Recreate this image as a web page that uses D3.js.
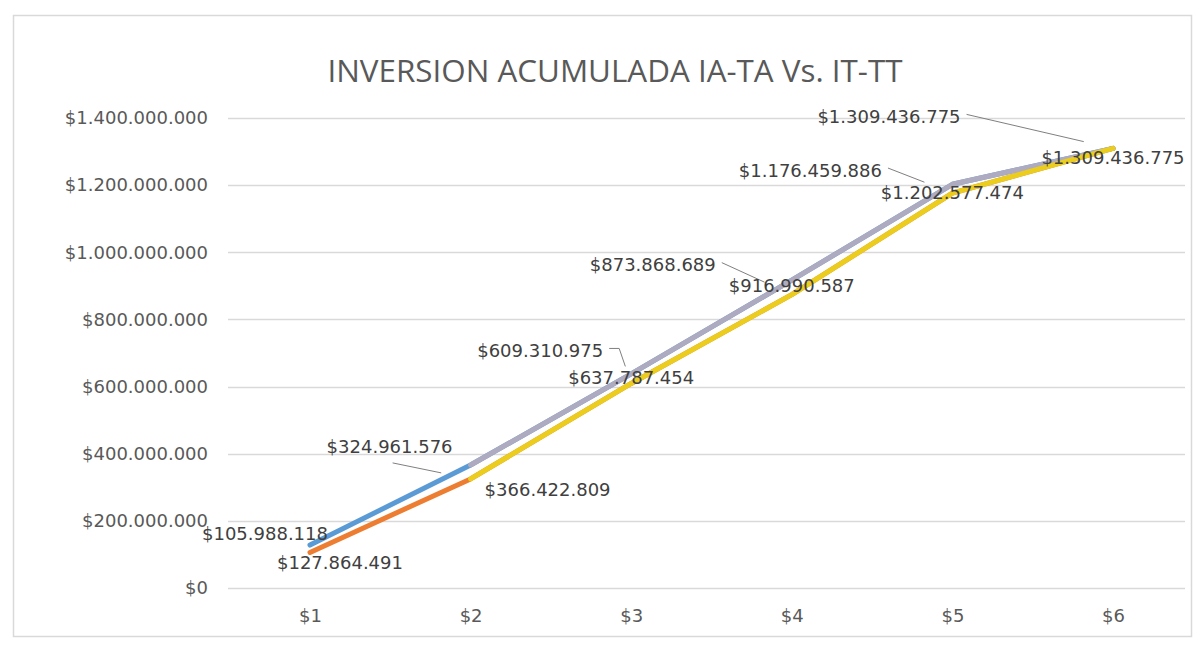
<!DOCTYPE html>
<html>
<head>
<meta charset="utf-8">
<script src="https://cdn.jsdelivr.net/npm/d3@7"></script>
<style>
  html, body { margin: 0; padding: 0; background: #ffffff; }
  svg { display: block; }
</style>
</head>
<body>
<svg id="chart" width="1195" height="648"></svg>
<script>
// ---- Data ----
const categories = ["$1", "$2", "$3", "$4", "$5", "$6"];
const seriesIA = [127864491, 366422809, 637787454, 916990587, 1202577474, 1309436775]; // blue
const seriesTA = [105988118, 324961576, 609310975, 873868689, 1176459886, 1309436775]; // orange
const seriesIT = [null, 366422809, 637787454, 916990587, 1202577474, 1309436775];      // gray
const seriesTT = [null, 324961576, 609310975, 873868689, 1176459886, 1309436775];      // yellow
const yTicks = [0, 200000000, 400000000, 600000000, 800000000, 1000000000, 1200000000, 1400000000];
const titleText = "INVERSION ACUMULADA IA-TA Vs. IT-TT";

// ---- Layout / style ----
const svg = d3.select("#chart");
const x = d3.scalePoint().domain(categories).range([310, 1113]);
const y = d3.scaleLinear().domain([0, 1400000000]).range([588, 118]);
const gridX0 = 228, gridX1 = 1185;
const fmt = v => "$" + d3.format(",")(v).replace(/,/g, ".");

// chart border
svg.append("rect").attr("x", 13.5).attr("y", 15.5).attr("width", 1178).attr("height", 621)
  .attr("fill", "#fff").attr("stroke", "#d9d9d9").attr("stroke-width", 1.5);

// title
svg.append("text").attr("x", 615).attr("y", 82).attr("text-anchor", "middle")
  .attr("font-family", "'Open Sans', 'Liberation Sans', sans-serif").attr("font-size", 31)
  .attr("fill", "#595959").attr("textLength", 575).attr("lengthAdjust", "spacingAndGlyphs")
  .text(titleText);

// gridlines
svg.append("g").selectAll("line").data(yTicks).join("line")
  .attr("x1", gridX0).attr("x2", gridX1)
  .attr("y1", d => Math.round(y(d)) + 0.5).attr("y2", d => Math.round(y(d)) + 0.5)
  .attr("stroke", "#d9d9d9").attr("stroke-width", 1.3);

// y axis labels
const yAxis = d3.axisLeft(y).tickValues(yTicks).tickFormat(fmt).tickSize(0).tickPadding(0);
const gy = svg.append("g").attr("transform", "translate(208,0)").call(yAxis);
gy.select(".domain").remove();
gy.selectAll("text").attr("font-family", "'DejaVu Sans', sans-serif").attr("font-size", 18)
  .attr("fill", "#595959");

// x axis labels
const xAxis = d3.axisBottom(x).tickSize(0).tickPadding(0);
const gx = svg.append("g").attr("transform", "translate(0,609)").call(xAxis);
gx.select(".domain").remove();
gx.selectAll("text").attr("font-family", "'DejaVu Sans', sans-serif").attr("font-size", 18)
  .attr("fill", "#595959");

// lines
const line = d3.line().defined(d => d != null).x((d, i) => x(categories[i])).y(d => y(d));
const drawSeries = (data, color) => {
  svg.append("path").datum(data).attr("d", line).attr("fill", "none")
    .attr("stroke", color).attr("stroke-width", 5)
    .attr("stroke-linejoin", "round").attr("stroke-linecap", "round");
};
drawSeries(seriesIA, "#5b9bd5");
drawSeries(seriesTA, "#ed7d31");
drawSeries(seriesIT, "#aeabc0");
drawSeries(seriesTT, "#ebcd1e");

// data labels (placement offsets for readability)
const labelStyle = sel => sel.attr("font-family", "'DejaVu Sans', sans-serif").attr("font-size", 18)
  .attr("fill", "#404040").attr("text-anchor", "middle").attr("dominant-baseline", "central");

const offTA = [[-45, -19], [-81, -32], [-91, -33], [-139, -30], [-142, -23], [-224, -32]];
const leaderTA = ["none", "bottom", "elbow", "right", "right", "right"];
const offIA = [[30, 17], [77, 25], [0, 4], [0, 5], [0, 8], [0, 9]];

const gl = svg.append("g");
seriesTA.forEach((v, i) => {
  const px = x(categories[i]), py = y(v);
  const lx = px + offTA[i][0], ly = py + offTA[i][1];
  const t = gl.append("text").attr("x", lx).attr("y", ly).text(fmt(v)).call(labelStyle);
  const w = t.node().getComputedTextLength();
  let sx, sy, pts = [];
  if (leaderTA[i] === "bottom") { sx = lx + 3; sy = ly + 16; pts.push([sx, sy]); }
  else if (leaderTA[i] === "right" || leaderTA[i] === "elbow") {
    sx = lx + w / 2 + 6; sy = ly - 2; pts.push([sx, sy]);
    if (leaderTA[i] === "elbow") { sx += 10; pts.push([sx, sy]); }
  }
  if (pts.length) {
    const dx = px - sx, dy = py - sy, len = Math.hypot(dx, dy);
    const short = leaderTA[i] === "elbow" ? 18 : 30;
    const f = Math.max(0, (len - short) / len);
    pts.push([sx + dx * f, sy + dy * f]);
    gl.append("path").attr("d", d3.line()(pts)).attr("fill", "none")
      .attr("stroke", "#7f7f7f").attr("stroke-width", 1);
  }
});
seriesIA.forEach((v, i) => {
  const px = x(categories[i]), py = y(v);
  gl.append("text").attr("x", px + offIA[i][0]).attr("y", py + offIA[i][1]).text(fmt(v)).call(labelStyle);
});
</script>
</body>
</html>
